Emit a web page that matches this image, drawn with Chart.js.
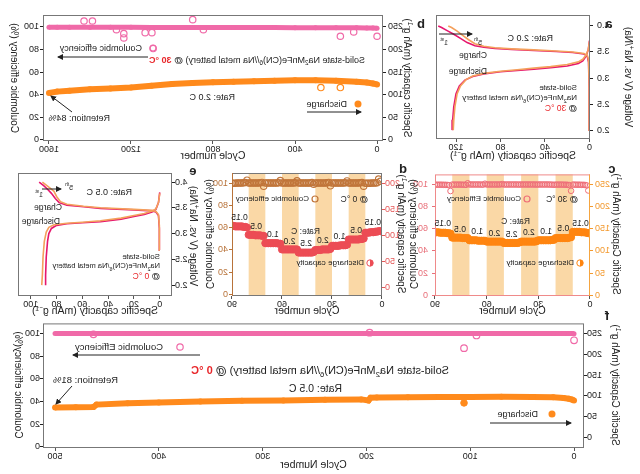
<!DOCTYPE html>
<html>
<head>
<meta charset="utf-8">
<script src="https://cdn.jsdelivr.net/npm/chart.js"></script>
<style>
  body { margin: 0; background: #fff; }
  /* the reference figure is a mirror image, so the whole figure is flipped */
  #fig { position: relative; width: 640px; height: 474px; overflow: hidden; transform: scaleX(-1);
         font-family: 'Liberation Sans', Arial, sans-serif; color: #222; }
  canvas { position: absolute; }
  .t { position: absolute; white-space: nowrap; line-height: 1; transform: translateY(-50%); font-size: 9px; }
  .yt { position: absolute; white-space: nowrap; line-height: 1; font-size: 10px; transform: translate(-50%, -50%) rotate(-90deg); }
  .lt { position: absolute; font-weight: bold; font-size: 13px; line-height: 1; transform: translate(-50%, -50%); }
  .red { color: #e8262a; }
  sub, sup { font-size: 70%; line-height: 0; }
  svg { position: absolute; left: 0; top: 0; }
</style>
</head>
<body>
<div id="fig">
  <canvas id="ca" width="215" height="165" style="left:0;top:0"></canvas>
  <canvas id="cb" width="425" height="165" style="left:215px;top:0"></canvas>
  <canvas id="cc" width="232" height="155" style="left:0;top:165px"></canvas>
  <canvas id="cd" width="196" height="155" style="left:232px;top:165px"></canvas>
  <canvas id="ce" width="212" height="155" style="left:428px;top:165px"></canvas>
  <canvas id="cf" width="640" height="156" style="left:0;top:318px"></canvas>

  <svg width="640" height="474">
    <defs>
      <marker id="ah" markerWidth="6" markerHeight="6" refX="5" refY="3" orient="auto" markerUnits="userSpaceOnUse">
        <path d="M0,0 L6,3 L0,6 z" fill="#222"/>
      </marker>
    </defs>
    <g stroke="#222" stroke-width="1" fill="none">
      <line x1="201" y1="34" x2="168" y2="34" marker-end="url(#ah)"/>
      <line x1="492" y1="57" x2="582" y2="57" marker-end="url(#ah)"/>
      <line x1="333" y1="112" x2="279" y2="112" marker-end="url(#ah)"/>
      <line x1="568" y1="112" x2="589" y2="96" marker-end="url(#ah)"/>
      <line x1="598" y1="189" x2="579" y2="189" marker-end="url(#ah)"/>
      <line x1="440" y1="355" x2="567" y2="355" marker-end="url(#ah)"/>
      <line x1="150" y1="423" x2="69" y2="423" marker-end="url(#ah)"/>
      <line x1="568" y1="386" x2="584" y2="404" marker-end="url(#ah)"/>
    </g>
    <circle cx="487" cy="48" r="3" fill="none" stroke="#f06aa8" stroke-width="1.2"/>
    <circle cx="282" cy="104" r="3.5" fill="#ff8a1c"/>
    <circle cx="113" cy="199" r="3" fill="none" stroke="#ee6e78" stroke-width="1.2"/>
    <circle cx="60" cy="263" r="3.2" fill="#fff" stroke="#ff8510" stroke-width="1"/>
    <path d="M60,259.8 A3.2,3.2 0 0 0 60,266.2 z" fill="#ff8510"/>
    <circle cx="325" cy="199" r="3" fill="none" stroke="#c0753a" stroke-width="1.2"/>
    <circle cx="270" cy="263" r="3.2" fill="#fff" stroke="#ec4c55" stroke-width="1"/>
    <path d="M270,259.8 A3.2,3.2 0 0 0 270,266.2 z" fill="#ec4c55"/>
    <circle cx="460" cy="347" r="3.2" fill="none" stroke="#f06aa8" stroke-width="1.2"/>
    <circle cx="88" cy="414" r="3.5" fill="#ff8a1c"/>
  </svg>

  <!-- panel letters -->
  <div class="lt" style="left:31px;top:23px">a</div>
  <div class="lt" style="left:219px;top:23px">b</div>
  <div class="lt" style="left:28px;top:168px">c</div>
  <div class="lt" style="left:237px;top:168px">d</div>
  <div class="lt" style="left:447px;top:170px">e</div>
  <div class="lt" style="left:33px;top:315px">f</div>

  <!-- y-axis titles -->
  <div class="yt" style="left:12px;top:77px">Voltage (V vs. Na<sup>+</sup>/Na)</div>
  <div class="yt" style="left:233px;top:78px">Specific capacity (mAh g<sup>-1</sup>)</div>
  <div class="yt" style="left:626px;top:78px">Coulombic efficiency (%)</div>
  <div class="yt" style="left:24px;top:234px">Specific Capacity (mAh g<sup>-1</sup>)</div>
  <div class="yt" style="left:227px;top:234px">Coulombic efficiency (%)</div>
  <div class="yt" style="left:239px;top:234px">Specific capacity (mAh g<sup>-1</sup>)</div>
  <div class="yt" style="left:431px;top:234px">Coulombic efficiency (%)</div>
  <div class="yt" style="left:447px;top:236px">Voltage (V vs. Na<sup>+</sup>/Na)</div>
  <div class="yt" style="left:25px;top:385px">Specific Capacity (mAh g<sup>-1</sup>)</div>
  <div class="yt" style="left:622px;top:385px">Coulombic efficiency(%)</div>

  <!-- panel a notes -->
  <div class="t" style="left:87px;top:38px">Rate: 2.0 C</div>
  <div class="t" style="left:153px;top:55px;font-size:8.5px">Charge</div>
  <div class="t" style="left:153px;top:71px;font-size:8.5px">Discharge</div>
  <div class="t" style="left:192px;top:42px;font-size:7px">1<sup>st</sup></div>
  <div class="t" style="left:158px;top:42px;font-size:7px">5<sup>th</sup></div>
  <div class="t" style="left:63px;top:88px;font-size:8px">Solid-state</div>
  <div class="t" style="left:63px;top:98px;font-size:8px">Na<sub>2</sub>MnFe(CN)<sub>6</sub>/Na metal battery</div>
  <div class="t" style="left:63px;top:108px;font-size:8.5px"><b>@</b> <span class="red">30 °C</span></div>

  <!-- panel b notes -->
  <div class="t" style="left:498px;top:48px">Coulombic efficiency</div>
  <div class="t" style="left:275px;top:60px">Solid-state Na<sub>2</sub>MnFe(CN)<sub>6</sub>//Na metal battery) <b>@</b> <b class="red">30 °C</b></div>
  <div class="t" style="left:405px;top:97px">Rate: 2.0 C</div>
  <div class="t" style="left:293px;top:104px">Discharge</div>
  <div class="t" style="left:530px;top:118px">Retention: 84%</div>

  <!-- panel c notes -->
  <div class="t" style="left:62px;top:199px;font-size:8.5px"><b>@</b> 30 °C</div>
  <div class="t" style="left:119px;top:199px;font-size:8px">Coulombic Efficiency</div>
  <div class="t" style="left:110px;top:221px;font-size:8.5px">Rate: C</div>
  <div class="t" style="left:66px;top:263px;font-size:8px">Discharge capacity</div>

  <!-- panel d notes -->
  <div class="t" style="left:272px;top:199px;font-size:8.5px"><b>@</b> 0 °C</div>
  <div class="t" style="left:331px;top:199px;font-size:8px">Coulombic efficiency</div>
  <div class="t" style="left:320px;top:231px;font-size:8.5px">Rate: C</div>
  <div class="t" style="left:276px;top:263px;font-size:8px">Discharge capacity</div>

  <!-- panel e notes -->
  <div class="t" style="left:508px;top:192px">Rate: 0.5 C</div>
  <div class="t" style="left:567px;top:187px;font-size:7px">5<sup>th</sup></div>
  <div class="t" style="left:597px;top:194px;font-size:7px">1<sup>st</sup></div>
  <div class="t" style="left:578px;top:207px;font-size:8.5px">Charge</div>
  <div class="t" style="left:580px;top:221px;font-size:8.5px">Discharge</div>
  <div class="t" style="left:480px;top:257px;font-size:8px">Solid-state</div>
  <div class="t" style="left:480px;top:266px;font-size:7.5px">Na<sub>2</sub>MnFe(CN)<sub>6</sub>/Na metal battery</div>
  <div class="t" style="left:480px;top:276px;font-size:8.5px"><b>@</b> <span class="red">0 °C</span></div>

  <!-- panel f notes -->
  <div class="t" style="left:477px;top:347px;font-size:9.5px">Coulombic Efficiency</div>
  <div class="t" style="left:191px;top:370px;font-size:11px">Solid-state Na<sub>2</sub>MnFe(CN)<sub>6</sub>//Na metal battery) <b>@</b> <b class="red">0 °C</b></div>
  <div class="t" style="left:298px;top:388px;font-size:10.5px">Rate: 0.5 C</div>
  <div class="t" style="left:522px;top:380px;font-size:9.5px">Retention: 81%</div>
  <div class="t" style="left:102px;top:414px;font-size:9px">Discharge</div>
</div>

<script>
const FONT = "'Liberation Sans', Arial, sans-serif";
const tickFont = { family: FONT, size: 9 };

// ---- a: charge/discharge profiles @ 30 °C, 2.0 C  [capacity, voltage]
const chg30First = [[0,2.0],[0.3,2.8],[0.8,3.3],[2,3.42],[5,3.46],[15,3.49],[30,3.51],[50,3.53],[70,3.55],[85,3.57],[95,3.59],[103,3.62],[110,3.68],[116,3.76],[122,3.84],[128,3.91],[133,3.97],[136,4.0]];
const chg30Fifth = [[0,2.0],[0.3,2.9],[0.8,3.35],[2,3.44],[5,3.47],[15,3.5],[30,3.52],[50,3.54],[70,3.56],[85,3.58],[95,3.61],[103,3.66],[109,3.74],[114,3.82],[119,3.9],[124,3.97],[127,4.0]];
const dis30First = [[0,3.72],[1,3.55],[3,3.42],[6,3.33],[10,3.28],[20,3.23],[35,3.2],[50,3.17],[65,3.145],[80,3.12],[95,3.08],[105,3.03],[112,2.96],[117,2.85],[120,2.7],[122,2.45],[123,2.2],[123.5,2.0]];
const dis30Fifth = [[0,3.7],[1,3.55],[3,3.44],[6,3.36],[10,3.31],[20,3.26],[35,3.22],[50,3.19],[65,3.16],[80,3.13],[95,3.09],[105,3.04],[111,2.97],[116,2.85],[119,2.7],[121,2.45],[122,2.2],[122.5,2.0]];

// ---- b: long cycling @ 30 °C, 2.0 C
const cyc30 = [0, 20, 50, 100, 200, 300, 400, 500, 600, 700, 800, 900, 1000, 1100, 1200, 1300, 1400, 1500, 1560, 1600];
const cap30 = [123, 125, 127, 129, 131, 132, 132, 131, 130, 129, 127.5, 126, 124, 120, 116, 114, 112, 109, 107, 104];
const ce30 = [98.8, 99.0, 99.2, 99.3, 99.3, 99.4, 99.4, 99.5, 99.5, 99.5, 99.6, 99.6, 99.6, 99.6, 99.7, 99.7, 99.7, 99.7, 99.7, 99.8];
const ce30OutCyc = [0, 114, 179, 847, 899, 1092, 1098, 1131, 1235, 1235, 1271, 1388, 1429];
const ce30OutVal = [91.8, 95.6, 91.8, 97.6, 106.5, 80.9, 95, 95, 94.1, 90.3, 97.6, 105.3, 105.3];
const cap30OutCyc = [179, 274];
const cap30OutVal = [116, 116];

// ---- c, d: rate tests (10 cycles per step)
const rateSteps = ['0.15', '0.5', '1.0', '2.0', '2.5', '2.0', '1.0', '0.5', '0.15'];
const stepLen = 10;
const stepBands = [[10, 20], [30, 40], [50, 60], [70, 80]];
const rateCycles = Array.from({ length: 90 }, (_, i) => i + 1);
const capRate30 = [
  140, 141, 142, 142, 142, 143, 143, 143, 143, 143,
  131, 130, 129, 129, 129, 129, 129, 129, 129, 129,
  125, 125, 124, 124, 124, 124, 124, 124, 124, 124,
  122, 121, 121, 121, 121, 121, 121, 121, 121, 121,
  119, 118, 118, 118, 118, 118, 118, 118, 118, 118,
  121, 121, 121, 121, 121, 121, 121, 121, 121, 121,
  123, 123, 123, 123, 123, 124, 124, 124, 124, 124,
  129, 129, 129, 129, 130, 130, 130, 130, 130, 130,
  139, 140, 140, 141, 141, 141, 141, 142, 142, 142];
const ceRate30 = [
  94.5, 99.2, 99.5, 99.6, 99.6, 99.7, 99.7, 99.7, 99.8, 99.8,
  94.2, 99.4, 99.6, 99.7, 99.7, 99.8, 99.8, 99.8, 99.8, 99.8,
  99.6, 99.8, 99.8, 99.9, 99.9, 99.9, 99.9, 99.9, 99.9, 99.9,
  99.8, 99.9, 99.9, 99.9, 99.9, 99.9, 99.9, 99.9, 99.9, 99.9,
  99.8, 99.9, 99.9, 99.9, 99.9, 99.9, 99.9, 99.9, 99.9, 99.9,
  100.3, 99.9, 99.9, 99.9, 99.9, 99.9, 99.9, 99.9, 99.9, 99.9,
  100.6, 99.8, 99.8, 99.9, 99.9, 99.9, 99.9, 99.9, 99.9, 99.9,
  101.0, 99.6, 99.7, 99.7, 99.8, 99.8, 99.8, 99.8, 99.8, 99.8,
  94.0, 99.3, 99.5, 99.6, 99.6, 99.7, 99.7, 99.7, 99.7, 99.7];
const capRate0 = [
  108, 108, 107, 107, 106, 106, 106, 105, 105, 105,
  94, 93, 93, 92, 92, 92, 92, 92, 92, 92,
  82, 81, 81, 81, 81, 80, 80, 80, 80, 80,
  74, 73, 73, 73, 73, 73, 72, 72, 72, 72,
  68, 67, 67, 67, 67, 67, 67, 67, 67, 67,
  73, 73, 73, 73, 73, 73, 73, 73, 73, 73,
  84, 84, 85, 85, 85, 85, 85, 85, 85, 85,
  99, 99, 100, 100, 100, 100, 101, 101, 101, 101,
  115, 116, 116, 117, 117, 117, 117, 117, 118, 118];
const ceRate0 = [
  101.5, 103.5, 100.3, 100.1, 100.0, 100.0, 99.9, 99.9, 99.9, 99.9,
  97.2, 100.4, 100.2, 100.1, 100.0, 100.0, 100.0, 100.0, 100.0, 100.0,
  101.8, 100.3, 100.1, 100.0, 100.0, 100.0, 100.0, 100.0, 100.0, 100.0,
  97.5, 100.5, 100.2, 100.1, 100.0, 100.0, 100.0, 100.0, 100.0, 100.0,
  99.0, 100.4, 100.1, 100.0, 100.0, 100.0, 100.0, 100.0, 100.0, 100.0,
  102.0, 100.2, 100.1, 100.0, 100.0, 100.0, 100.0, 100.0, 100.0, 100.0,
  102.2, 100.3, 100.1, 100.0, 100.0, 100.0, 100.0, 100.0, 100.0, 100.0,
  97.0, 100.5, 100.2, 100.1, 100.0, 100.0, 100.0, 100.0, 100.0, 100.0,
  102.5, 100.4, 100.2, 100.1, 100.0, 100.0, 100.0, 99.9, 99.9, 99.9];

// ---- e: charge/discharge profiles @ 0 °C, 0.5 C
const chg0First = [[0,2.68],[0.3,3.1],[1,3.35],[3,3.42],[6,3.44],[20,3.46],[46,3.49],[59,3.52],[72,3.55],[78,3.6],[81,3.68],[84,3.78],[87,3.86],[90,3.93],[93.5,4.0]];
const chg0Fifth = [[0,2.68],[0.3,3.15],[1,3.37],[3,3.43],[6,3.45],[20,3.47],[46,3.5],[59,3.53],[72,3.57],[77,3.62],[80,3.72],[82,3.82],[85,3.88],[88,3.94],[91,4.0]];
const dis0First = [[0,3.8],[1,3.6],[3,3.47],[6,3.42],[12,3.37],[20,3.33],[30,3.28],[46,3.23],[60,3.21],[72,3.19],[80,3.16],[84,3.1],[86,3.0],[87,2.85],[88,2.55],[88.5,2.2],[88.5,2.0]];
const dis0Fifth = [[0,3.78],[1,3.6],[3,3.48],[6,3.44],[12,3.39],[20,3.35],[30,3.3],[46,3.25],[60,3.22],[72,3.2],[82,3.17],[86,3.12],[88,3.03],[89.5,2.85],[90.5,2.55],[91,2.2],[91.5,2.0]];

// ---- f: long cycling @ 0 °C, 0.5 C
const cyc0 = [0, 2, 5, 10, 20, 40, 70, 100, 130, 160, 190, 196, 198, 205, 240, 280, 320, 360, 400, 430, 460, 463, 480, 500];
const cap0 = [89, 91, 93, 95, 96.5, 97.5, 98, 97.5, 97, 96.5, 96, 95.5, 89, 91.5, 90.5, 89, 88, 86.5, 84, 82, 79, 73, 72.5, 72];
const ce0 = [99.6, 99.8, 99.8, 99.9, 99.9, 99.9, 99.9, 99.9, 99.9, 99.9, 99.9, 99.9, 99.9, 99.9, 99.9, 99.9, 99.9, 99.9, 99.9, 99.9, 99.9, 99.9, 99.9, 99.9];
const ce0OutCyc = [0, 94, 106, 197, 463];
const ce0OutVal = [93.9, 98.2, 87, 100.6, 99.2];
const cap0OutCyc = [106];
const cap0OutVal = [83];

// tick labels
const capTicks = [0, 50, 100, 150, 200, 250];
const capTicksD = [0, 50, 100, 150, 200];
const ceTicks = [0, 20, 40, 60, 80, 100];
const voltTicks = [2.0, 2.5, 3.0, 3.5, 4.0];

// helpers
const pairs = arr => arr.map(([x, y]) => ({ x, y }));
const zip = (xs, ys) => xs.map((x, i) => ({ x, y: ys[i] }));
const plain = v => String(v);
const oneDec = v => v.toFixed(1);

function xAxis(min, max, ticks, h, title, fmt) {
  return {
    type: 'linear', position: 'bottom', min, max,
    afterBuildTicks: ax => { ax.ticks = ticks.map(v => ({ value: v })); },
    afterFit: ax => { ax.height = h; },
    grid: { display: true, drawOnChartArea: false, tickLength: 3, color: '#555' },
    border: { display: false },
    ticks: { font: tickFont, color: '#222', padding: 0, maxRotation: 0, autoSkip: false, callback: fmt || plain },
    title: { display: true, text: title, font: { family: FONT, size: 10.5 }, color: '#222', padding: { top: 0, bottom: 3 } }
  };
}

function yAxis(pos, min, max, ticks, w, color, pad, fmt) {
  return {
    type: 'linear', position: pos, min, max,
    afterBuildTicks: ax => { ax.ticks = ticks.map(v => ({ value: v })); },
    afterFit: ax => { ax.width = w; },
    grid: { display: true, drawOnChartArea: false, tickLength: 3, color },
    border: { display: false },
    ticks: { font: tickFont, color, padding: pad, autoSkip: false, callback: fmt || plain }
  };
}

// box around the plot area, optional coloured sides
const frame = {
  id: 'frame',
  afterDatasetsDraw(chart, args, o) {
    const { ctx, chartArea: a } = chart;
    ctx.save();
    ctx.lineWidth = 1;
    ctx.strokeStyle = o.color || '#777';
    ctx.strokeRect(a.left + 0.5, a.top + 0.5, a.right - a.left - 1, a.bottom - a.top - 1);
    if (o.left) {
      ctx.strokeStyle = o.left;
      ctx.beginPath(); ctx.moveTo(a.left + 0.5, a.top); ctx.lineTo(a.left + 0.5, a.bottom); ctx.stroke();
    }
    if (o.right) {
      ctx.strokeStyle = o.right;
      ctx.beginPath(); ctx.moveTo(a.right - 0.5, a.top); ctx.lineTo(a.right - 0.5, a.bottom); ctx.stroke();
    }
    ctx.restore();
  }
};

// shaded rate steps
const bands = {
  id: 'bands',
  beforeDatasetsDraw(chart, args, o) {
    if (!o.ranges) return;
    const { ctx, chartArea: a } = chart;
    const xs = chart.scales.x;
    ctx.save();
    ctx.fillStyle = o.color;
    o.ranges.forEach(([s, e]) => {
      const x0 = xs.getPixelForValue(s), x1 = xs.getPixelForValue(e);
      ctx.fillRect(x0, a.top, x1 - x0, a.bottom - a.top);
    });
    ctx.restore();
  }
};

// C-rate numbers above each step
const rateText = {
  id: 'rateText',
  afterDatasetsDraw(chart, args, o) {
    if (!o.steps) return;
    const { ctx } = chart;
    const xs = chart.scales.x, ys = chart.scales[o.axis];
    ctx.save();
    ctx.font = '8.5px ' + FONT;
    ctx.fillStyle = '#222';
    ctx.textAlign = 'center';
    ctx.textBaseline = 'bottom';
    o.steps.forEach((s, i) => {
      const seg = o.values.slice(i * o.len, (i + 1) * o.len);
      const top = Math.max(...seg);
      ctx.fillText(s, xs.getPixelForValue(i * o.len + o.len / 2 + 0.5), ys.getPixelForValue(top) - 4);
    });
    ctx.restore();
  }
};

function opts(padding, scales, plug) {
  return {
    responsive: false,
    maintainAspectRatio: false,
    animation: false,
    layout: { padding },
    plugins: Object.assign({ legend: { display: false }, tooltip: { enabled: false } }, plug),
    scales
  };
}

const curve = (arr, color) => ({ data: pairs(arr), showLine: true, borderColor: color, borderWidth: 1.6, pointRadius: 0, tension: 0 });
// thick band of overlapping markers for the long cycling runs
const band = (data, axis, color, w) => ({ data, yAxisID: axis, showLine: true, borderColor: color, borderWidth: w, pointRadius: w / 2, pointBorderWidth: 0, pointBackgroundColor: color });
const PINK_V = '#e6166d';
const ORANGE_V = '#f4a05c';
const PINK = '#f06aa8';
const ORANGE = '#ff8a1c';

// a
new Chart(document.getElementById('ca'), {
  type: 'scatter',
  data: { datasets: [curve(dis30Fifth, ORANGE_V), curve(chg30Fifth, ORANGE_V), curve(dis30First, PINK_V), curve(chg30First, PINK_V)] },
  options: opts({ left: 0, right: 11, top: 15, bottom: 0 }, {
    x: xAxis(-0.5, 138, [0, 40, 80, 120], 26, 'Specific capacity (mAh g\u207B\u00B9)'),
    y: yAxis('left', 1.83, 4.21, voltTicks, 50, '#222', 4, oneDec)
  }, { frame: { color: '#777' } }),
  plugins: [frame]
});

// b
new Chart(document.getElementById('cb'), {
  type: 'scatter',
  data: { datasets: [
    band(zip(cyc30, ce30), 'yCE', PINK, 5),
    { data: zip(ce30OutCyc, ce30OutVal), yAxisID: 'yCE', pointRadius: 3.2, pointBackgroundColor: 'rgba(0,0,0,0)', pointBorderColor: PINK, pointBorderWidth: 1.2 },
    band(zip(cyc30, cap30), 'yCap', ORANGE, 6),
    { data: zip(cap30OutCyc, cap30OutVal), yAxisID: 'yCap', pointRadius: 3.2, pointBackgroundColor: 'rgba(0,0,0,0)', pointBorderColor: ORANGE, pointBorderWidth: 1.2 }
  ] },
  options: opts({ left: 0, right: 0, top: 15, bottom: 0 }, {
    x: xAxis(-29, 1629, [0, 400, 800, 1200, 1600], 24, 'Cycle number'),
    yCap: yAxis('left', -2.25, 276.5, capTicks, 42, '#222', 2),
    yCE: yAxis('right', -0.9, 110.6, ceTicks, 43, '#222', 1)
  }, { frame: { color: '#777' } }),
  plugins: [frame]
});

// c
new Chart(document.getElementById('cc'), {
  type: 'scatter',
  data: { datasets: [
    { data: zip(rateCycles, ceRate30), yAxisID: 'yCE', pointRadius: 2.8, pointBackgroundColor: 'rgba(0,0,0,0)', pointBorderColor: '#ee6e78', pointBorderWidth: 1 },
    { data: zip(rateCycles, capRate30), yAxisID: 'yCap', pointRadius: 3.6, pointBackgroundColor: '#ff8510', pointBorderColor: '#ff8510' }
  ] },
  options: opts({ left: 0, right: 0, top: 8, bottom: 0 }, {
    x: xAxis(0, 90, [0, 30, 60, 90], 24, 'Cycle Number'),
    yCap: yAxis('left', -1.5, 272.4, capTicks, 50, '#f39a30', 2),
    yCE: yAxis('right', -0.6, 109, ceTicks, 27, '#e8707a', 4)
  }, {
    frame: { color: '#ef8a8a', left: '#f5a540' },
    bands: { ranges: stepBands, color: 'rgba(248,200,128,0.7)' },
    rateText: { steps: rateSteps, values: capRate30, len: stepLen, axis: 'yCap' }
  }),
  plugins: [bands, frame, rateText]
});

// d
new Chart(document.getElementById('cd'), {
  type: 'scatter',
  data: { datasets: [
    { data: zip(rateCycles, ceRate0), yAxisID: 'yCE', pointRadius: 3.2, pointBackgroundColor: 'rgba(0,0,0,0)', pointBorderColor: '#c0753a', pointBorderWidth: 1.1 },
    { data: zip(rateCycles, capRate0), yAxisID: 'yCap', pointRadius: 3.6, pointBackgroundColor: '#ec4c55', pointBorderColor: '#ec4c55' }
  ] },
  options: opts({ left: 0, right: 0, top: 8, bottom: 0 }, {
    x: xAxis(0, 90, [0, 30, 60, 90], 24, 'Cycle number'),
    yCap: yAxis('left', -16, 219.2, capTicksD, 26, '#e55a5a', 0),
    yCE: yAxis('right', -1.5, 109, ceTicks, 20, '#b8733a', 1)
  }, {
    frame: { color: '#777', right: '#b8733a' },
    bands: { ranges: stepBands, color: 'rgba(248,200,128,0.7)' },
    rateText: { steps: rateSteps, values: capRate0, len: stepLen, axis: 'yCap' }
  }),
  plugins: [bands, frame, rateText]
});

// e
new Chart(document.getElementById('ce'), {
  type: 'scatter',
  data: { datasets: [curve(dis0Fifth, ORANGE_V), curve(chg0Fifth, ORANGE_V), curve(dis0First, PINK_V), curve(chg0First, PINK_V)] },
  options: opts({ left: 0, right: 18, top: 8, bottom: 0 }, {
    x: xAxis(-9.5, 109.9, [0, 20, 40, 60, 80, 100], 24, 'Specific capacity (mAh g\u207B\u00B9)'),
    y: yAxis('left', 1.79, 4.175, voltTicks, 40, '#222', 0, oneDec)
  }, { frame: { color: '#777' } }),
  plugins: [frame]
});

// f
new Chart(document.getElementById('cf'), {
  type: 'scatter',
  data: { datasets: [
    band(zip(cyc0, ce0), 'yCE', PINK, 5),
    { data: zip(ce0OutCyc, ce0OutVal), yAxisID: 'yCE', pointRadius: 3.3, pointBackgroundColor: 'rgba(0,0,0,0)', pointBorderColor: PINK, pointBorderWidth: 1.2 },
    band(zip(cyc0, cap0), 'yCap', ORANGE, 6),
    { data: zip(cap0OutCyc, cap0OutVal), yAxisID: 'yCap', pointRadius: 3.3, pointBackgroundColor: ORANGE, pointBorderColor: ORANGE }
  ] },
  options: opts({ left: 0, right: 0, top: 5, bottom: 0 }, {
    x: xAxis(-9.6, 511.6, [0, 100, 200, 300, 400, 500], 26, 'Cycle Number'),
    yCap: yAxis('left', -25.7, 274.8, capTicks, 56, '#222', 0),
    yCE: yAxis('right', -0.9, 108.8, ceTicks, 43, '#222', 0)
  }, { frame: { color: '#777' } }),
  plugins: [frame]
});
</script>
</body>
</html>
